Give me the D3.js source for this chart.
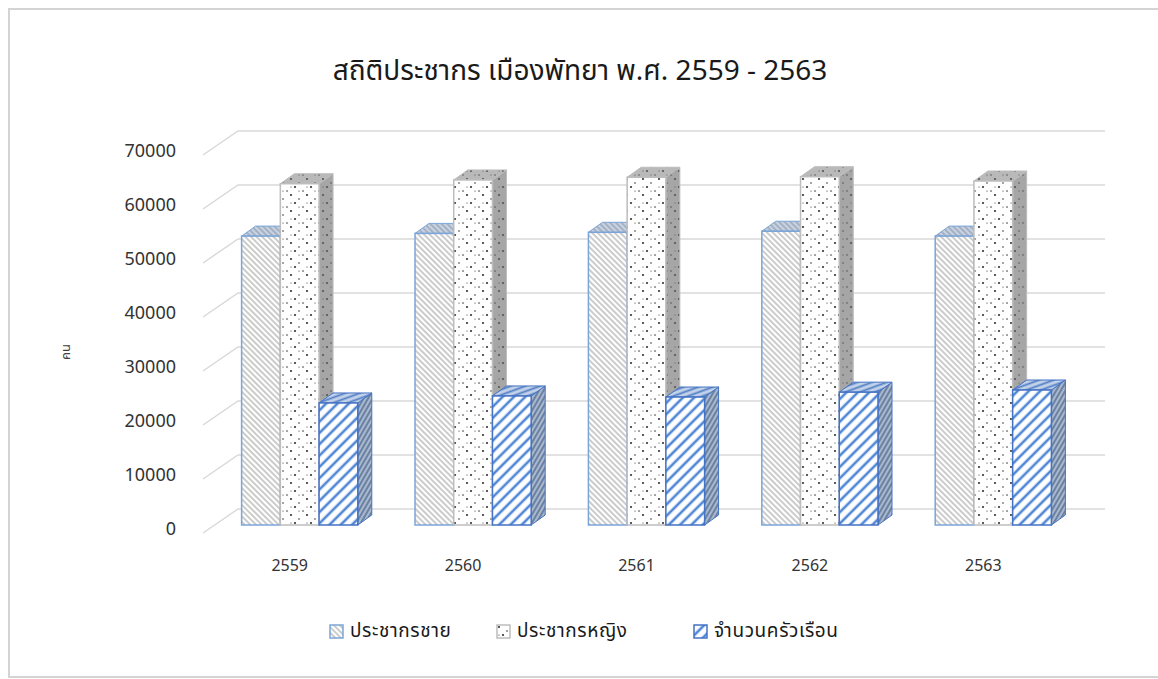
<!DOCTYPE html>
<html>
<head>
<meta charset="utf-8">
<script src="https://cdn.jsdelivr.net/npm/d3@7"></script>
<style>
  body { margin: 0; background: #fff; }
  svg text { font-family: "Noto Sans Thai", "Noto Sans", "DejaVu Sans", sans-serif; fill: #404040; }
</style>
</head>
<body>
<div id="chart"></div>
<script>
// data
var years = ["2559", "2560", "2561", "2562", "2563"];
var seriesNames = ["ประชากรชาย", "ประชากรหญิง", "จำนวนครัวเรือน"];
var male = [53500, 54000, 54200, 54400, 53500];
var female = [63200, 63900, 64400, 64500, 63700];
var households = [22600, 23900, 23700, 24600, 25000];
var yTicks = [0, 10000, 20000, 30000, 40000, 50000, 60000, 70000];

var width = 1158, height = 679;

var svg = d3.select("#chart").append("svg")
    .attr("width", width)
    .attr("height", height);

var defs = svg.append("defs");

// patterns
function linePattern(id, size, angle, color, sw, bg) {
    var p = defs.append("pattern")
        .attr("id", id)
        .attr("patternUnits", "userSpaceOnUse")
        .attr("width", size).attr("height", size)
        .attr("patternTransform", "rotate(" + angle + ")");
    p.append("rect").attr("width", size).attr("height", size).attr("fill", bg);
    p.append("line")
        .attr("x1", size / 2).attr("y1", 0)
        .attr("x2", size / 2).attr("y2", size)
        .attr("stroke", color).attr("stroke-width", sw);
}
linePattern("maleHatch", 4, -45, "#8c8c8c", 0.9, "#fff");
linePattern("maleTop", 4, -45, "#7f8fa8", 1, "#c9d3e0");
linePattern("maleSide", 4, -45, "#777", 1, "#b5b5b5");
linePattern("hhHatch", 8, 45, "#4f86d6", 2.6, "#fff");
linePattern("hhTop", 5, 70, "#4f7ec4", 1.8, "#c4d3ea");
linePattern("hhSide", 4, 30, "#506a92", 1.4, "#a9b8cc");

function dotPattern(id, bg, dot) {
    var p = defs.append("pattern")
        .attr("id", id)
        .attr("patternUnits", "userSpaceOnUse")
        .attr("width", 16).attr("height", 16);
    p.append("rect").attr("width", 16).attr("height", 16).attr("fill", bg);
    [[3, 3, 1.1], [11, 7, 0.8], [7, 11, 1.1], [15, 15, 0.8], [11, 15, 0.6], [3, 11, 0.6]].forEach(function(d) {
        p.append("circle").attr("cx", d[0]).attr("cy", d[1]).attr("r", d[2]).attr("fill", dot);
    });
}
dotPattern("femDots", "#fff", "#333");
dotPattern("femTop", "#b9b9b9", "#555");
dotPattern("femSide", "#a6a6a6", "#555");

// outer frame
svg.append("rect")
    .attr("x", 9).attr("y", 9)
    .attr("width", 1170).attr("height", 668)
    .attr("fill", "#fff")
    .attr("stroke", "#d4d4d4")
    .attr("stroke-width", 2);

// title
svg.append("text")
    .attr("x", 580).attr("y", 80)
    .attr("text-anchor", "middle")
    .style("font-size", "28px")
    .style("fill", "#1a1a1a")
    .text("สถิติประชากร เมืองพัทยา พ.ศ. 2559 - 2563");

// 3d geometry: back wall, bar front plane, front floor edge
var barPlane = {dx: -25, dy: 16};
var frontEdge = {dx: -35, dy: 24};
var depth = {dx: 14, dy: -10};

var x = d3.scaleBand()
    .domain(years)
    .range([238, 1105])
    .paddingInner(0.33)
    .paddingOuter(0.165);

var xs = d3.scaleBand()
    .domain(seriesNames)
    .range([0, x.bandwidth()]);

var y = d3.scaleLinear()
    .domain([0, 70000])
    .range([509, 131]);

// gridlines on back wall with diagonal on the side wall
var grid = svg.append("g");
yTicks.forEach(function(t) {
    var yy = y(t);
    grid.append("path")
        .attr("d", "M" + (238 + frontEdge.dx) + "," + (yy + frontEdge.dy) + "L238," + yy + "L1105," + yy)
        .attr("fill", "none")
        .attr("stroke", "#d9d9d9")
        .attr("stroke-width", 1.5);
});

// y tick labels
svg.append("g").selectAll("text")
    .data(yTicks)
    .enter().append("text")
    .attr("x", 176)
    .attr("y", function(d) { return y(d) + frontEdge.dy - 3; })
    .attr("text-anchor", "end")
    .attr("dominant-baseline", "middle")
    .style("font-size", "18px")
    .style("fill", "#333")
    .text(function(d) { return d; });

// y axis title
svg.append("text")
    .attr("transform", "translate(66,352) rotate(-90)")
    .attr("text-anchor", "middle")
    .attr("dominant-baseline", "middle")
    .style("font-size", "13px")
    .text("คน");

// bars
var styles = [
    {front: "url(#maleHatch)", top: "url(#maleTop)", side: "url(#maleSide)", stroke: "#7ba5d8"},
    {front: "url(#femDots)", top: "url(#femTop)", side: "url(#femSide)", stroke: "#bdbdbd"},
    {front: "url(#hhHatch)", top: "url(#hhTop)", side: "url(#hhSide)", stroke: "#4472c4"}
];
var allSeries = [male, female, households];

var bars = svg.append("g");
years.forEach(function(yr, i) {
    allSeries.forEach(function(vals, s) {
        var st = styles[s];
        var x0 = x(yr) + xs(seriesNames[s]) + barPlane.dx;
        var x1 = x0 + xs.bandwidth();
        var yb = y(0) + barPlane.dy;
        var yt = y(vals[i]) + barPlane.dy;
        var dx = depth.dx, dy = depth.dy;
        // side face
        bars.append("path")
            .attr("d", "M" + x1 + "," + yt + "L" + (x1 + dx) + "," + (yt + dy) + "L" + (x1 + dx) + "," + (yb + dy) + "L" + x1 + "," + yb + "Z")
            .attr("fill", st.side)
            .attr("stroke", st.stroke).attr("stroke-width", 1);
        // top face
        bars.append("path")
            .attr("d", "M" + x0 + "," + yt + "L" + (x0 + dx) + "," + (yt + dy) + "L" + (x1 + dx) + "," + (yt + dy) + "L" + x1 + "," + yt + "Z")
            .attr("fill", st.top)
            .attr("stroke", st.stroke).attr("stroke-width", 1);
        // front face
        bars.append("rect")
            .attr("x", x0).attr("y", yt)
            .attr("width", x1 - x0).attr("height", yb - yt)
            .attr("fill", st.front)
            .attr("stroke", st.stroke).attr("stroke-width", 1.5);
    });
});

// x labels
svg.append("g").selectAll("text")
    .data(years)
    .enter().append("text")
    .attr("x", function(d) { return x(d) + x.bandwidth() / 2 + frontEdge.dx; })
    .attr("y", 571)
    .attr("text-anchor", "middle")
    .style("font-size", "16px")
    .style("fill", "#333")
    .text(function(d) { return d; });

// legend
var legendX = [330, 497, 694];
var legend = svg.append("g");
seriesNames.forEach(function(name, s) {
    legend.append("rect")
        .attr("x", legendX[s]).attr("y", 625)
        .attr("width", 13).attr("height", 13)
        .attr("fill", styles[s].front)
        .attr("stroke", styles[s].stroke).attr("stroke-width", 1.5);
    legend.append("text")
        .attr("x", legendX[s] + 20).attr("y", 632)
        .attr("dominant-baseline", "middle")
        .style("font-size", "19px")
        .style("letter-spacing", "0.6px")
        .style("fill", "#1a1a1a")
        .text(name);
});
</script>
</body>
</html>
